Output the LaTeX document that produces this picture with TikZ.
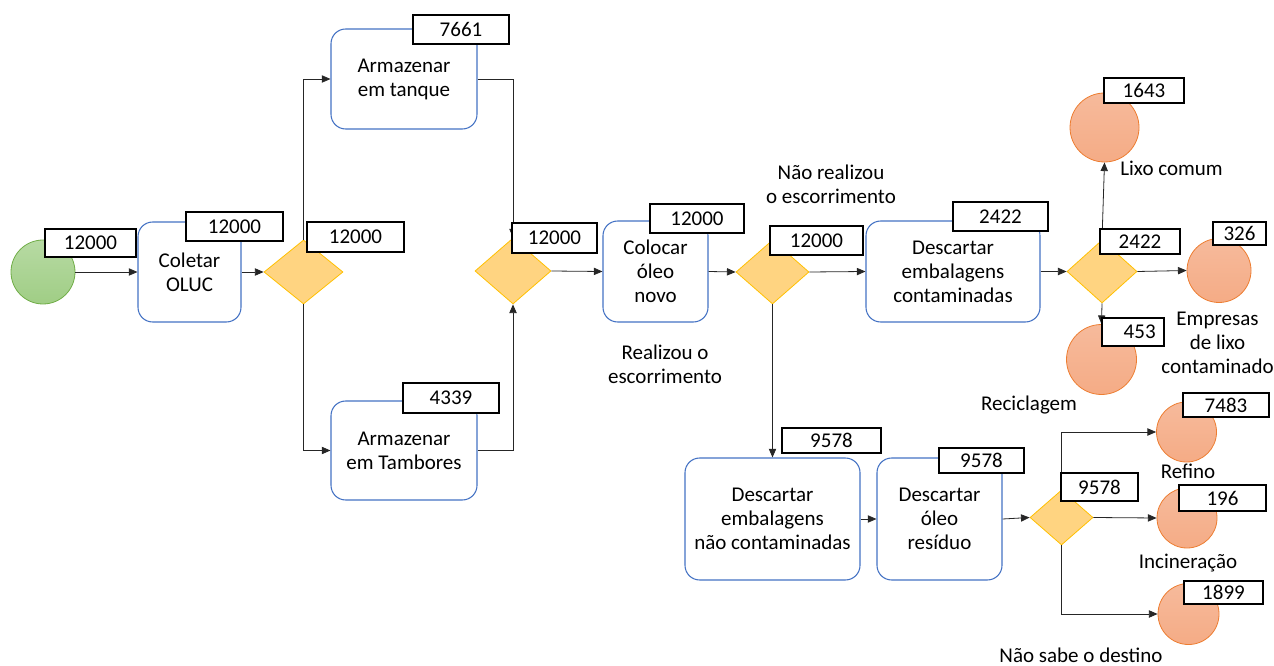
\documentclass[tikz,border=0pt]{standalone}
\usepackage{fontspec}
\setmainfont{Carlito}
\usetikzlibrary{shapes.geometric,arrows.meta}

\definecolor{kuanglan}{HTML}{4472C4}
\definecolor{lingxing}{HTML}{FFD481}
\definecolor{lingbian}{HTML}{FFC000}
\definecolor{lvtian}{HTML}{A5D18C}
\definecolor{lvbian}{HTML}{70AD47}
\definecolor{juhuang}{HTML}{F5AE8A}
\definecolor{jubian}{HTML}{ED7D31}

\begin{document}
\begin{tikzpicture}[x=0.75pt,y=-0.75pt,
  font=\fontsize{15.75}{18}\selectfont,
  % 流程框的style
  liucheng/.style={draw=kuanglan,line width=0.8pt,rounded corners=11pt,
    fill=white,align=center,inner sep=2pt},
  % 判断用的菱形
  panduan/.style={diamond,draw=lingbian,fill=lingxing,line width=0.6pt,
    inner sep=0pt},
  % 圆形终点
  yuan/.style={circle,draw=jubian,top color=juhuang!85!white,
    bottom color=juhuang!95!jubian,line width=0.6pt,inner sep=0pt},
  % 数字小框
  shuzi/.style={draw=black,fill=white,line width=0.8pt,inner sep=0pt},
  % 箭头线
  jiantou/.style={draw=black!85,line width=0.6pt,
    -{Triangle[length=6.5pt,width=5.5pt]}},
  wenzi/.style={align=center,inner sep=0pt}
]

  % 画布大小
  \useasboundingbox (0,0) rectangle (1274,666);

  % 起点
  \node[circle,draw=lvbian,top color=lvtian!80!white,bottom color=lvtian!90!lvbian,
    line width=0.6pt,minimum size=48pt,inner sep=0pt] (qidian) at (43,272) {};

  % 流程框
  \node[liucheng,minimum width=77.25pt,minimum height=75pt] (coletar) at (189.5,272) {Coletar\\OLUC};
  \node[liucheng,minimum width=109.5pt,minimum height=75pt] (tanque) at (404,79) {Armazenar\\em tanque};
  \node[liucheng,minimum width=109.5pt,minimum height=74.25pt] (tambor) at (404,450.5) {Armazenar\\em Tambores};
  \node[liucheng,minimum width=78.75pt,minimum height=75.75pt] (colocar) at (655.5,271.5) {Colocar\\óleo\\novo};
  \node[liucheng,minimum width=130.5pt,minimum height=75.75pt] (contam) at (953,271.5) {Descartar\\embalagens\\contaminadas};
  \node[liucheng,minimum width=131.25pt,minimum height=91.5pt] (naocont) at (772.5,519) {Descartar\\embalagens\\não contaminadas};
  \node[liucheng,minimum width=93.75pt,minimum height=91.5pt] (oleo) at (939.5,519) {Descartar\\óleo\\resíduo};

  % 菱形
  \node[panduan,minimum width=59.25pt,minimum height=48pt] (d1) at (303.5,272) {};
  \node[panduan,minimum width=57pt,minimum height=49.5pt] (d2) at (513,271) {};
  \node[panduan,minimum width=54.75pt,minimum height=48pt] (d3) at (772.5,272) {};
  \node[panduan,minimum width=52.5pt,minimum height=47.25pt] (d4) at (1102,271.5) {};
  \node[panduan,minimum width=47.25pt,minimum height=41.25pt] (d5) at (1061.5,517.5) {};

  % 去向的圆
  \node[yuan,minimum size=51.75pt] (lixo) at (1104.5,127.5) {};
  \node[yuan,minimum size=48pt] (empresas) at (1219,270.5) {};
  \node[yuan,minimum size=52.5pt] (recicl) at (1101.5,359.5) {};
  \node[yuan,minimum size=45pt] (refino) at (1186.5,432) {};
  \node[yuan,minimum size=45pt] (incin) at (1187,518) {};
  \node[yuan,minimum size=45.75pt] (destino) at (1188.5,614) {};

  % 连线
  \draw[jiantou] (qidian.east) -- (qidian.east -| coletar.west);
  \draw[jiantou] (coletar.east) -- (d1.west);
  \draw[jiantou] (d1.north) |- (tanque.west);
  \draw[jiantou] (d1.south) |- (tambor.west);
  \draw[jiantou] (tanque.east) -| (d2.north);
  \draw[jiantou] (tambor.east) -| (d2.south);
  \draw[jiantou] (d2.east) -- (colocar.west);
  \draw[jiantou] (colocar.east) -- (d3.west);
  \draw[jiantou] (d3.east) -- (contam.west);
  \draw[jiantou] (d3.south) -- (d3.south |- naocont.north);
  \draw[jiantou] (contam.east) -- (d4.west);
  \draw[jiantou] (d4.north) -- (lixo.south);
  \draw[jiantou] (d4.east) -- (empresas.west);
  \draw[jiantou] (d4.south) -- (recicl.north);
  \draw[jiantou] (naocont.east) -- (oleo.west);
  \draw[jiantou] (oleo.east) -- (d5.west);
  \draw[jiantou] (d5.north) |- (refino.west);
  \draw[jiantou] (d5.east) -- (incin.west);
  \draw[jiantou] (d5.south) |- (destino.west);

  % 数字框
  \node[shuzi,minimum width=68.25pt,minimum height=21pt] (vqidian) at (90.5,243) {12000};
  \node[shuzi,minimum width=72.75pt,minimum height=21.75pt] (vcoletar) at (234.5,226.5) {12000};
  \node[shuzi,minimum width=72.75pt,minimum height=22.5pt] (vd1) at (355.5,237) {12000};
  \node[shuzi,minimum width=72pt,minimum height=21.75pt] (vtanque) at (461,29.5) {7661};
  \node[shuzi,minimum width=72pt,minimum height=22.5pt] (vtambor) at (451,398) {4339};
  \node[shuzi,minimum width=63.75pt,minimum height=22.5pt] (vd2) at (554.5,238) {12000};
  \node[shuzi,minimum width=70.5pt,minimum height=21.75pt] (vcolocar) at (697,218.5) {12000};
  \node[shuzi,minimum width=69.75pt,minimum height=21.75pt] (vd3) at (816.5,240.5) {12000};
  \node[shuzi,minimum width=71.25pt,minimum height=21.75pt] (vcontam) at (1000.5,216.5) {2422};
  \node[shuzi,minimum width=60pt,minimum height=18.75pt] (vd4) at (1140,241.5) {2422};
  \node[shuzi,minimum width=60pt,minimum height=18.75pt] (vlixo) at (1144,90.5) {1643};
  \node[shuzi,minimum width=39.75pt,minimum height=17.25pt] (vempresas) at (1239.5,233.5) {\hfill 326};
  \node[shuzi,minimum width=46.5pt,minimum height=21pt] (vrecicl) at (1133,332) {\hspace{10pt}453};
  \node[shuzi,minimum width=74.25pt,minimum height=18.75pt] (vnaocont) at (831.5,440.5) {9578};
  \node[shuzi,minimum width=63.75pt,minimum height=18.75pt] (voleo) at (981.5,460.5) {9578};
  \node[shuzi,minimum width=57.75pt,minimum height=21pt] (vd5) at (1099.5,487) {9578};
  \node[shuzi,minimum width=64.5pt,minimum height=18pt] (vrefino) at (1226,405) {7483};
  \node[shuzi,minimum width=65.25pt,minimum height=19.5pt] (vincin) at (1222.5,498) {196};
  \node[shuzi,minimum width=59.25pt,minimum height=17.25pt] (vdestino) at (1223.5,592.5) {1899};

  % 说明文字
  \node[wenzi] (realizou) at (665,364) {Realizou o\\escorrimento};
  \node[wenzi] (naorealizou) at (831,184) {Não realizou\\o escorrimento};
  \node[wenzi] (tlixo) at (1171.5,168) {Lixo comum};
  \node[wenzi] (tempresas) at (1217.5,342.5) {Empresas\\de lixo\\contaminado};
  \node[wenzi] (trecicl) at (1029,405) {Reciclagem};
  \node[wenzi] (trefino) at (1188,471) {Refino};
  \node[wenzi] (tincin) at (1188,563) {Incineração};
  \node[wenzi,anchor=base] (tdestino) at (1081,662) {Não sabe o destino};

\end{tikzpicture}
\end{document}
